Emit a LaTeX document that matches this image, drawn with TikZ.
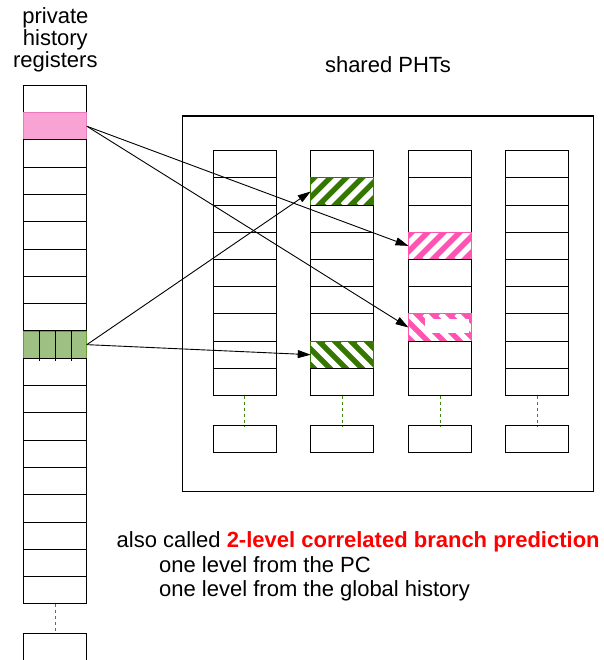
\documentclass[tikz,border=0pt]{standalone}
\usepackage{fontspec}
\setmainfont{Liberation Sans}
\usetikzlibrary{arrows.meta,calc}

\definecolor{regpink}{RGB}{249,163,212}
\definecolor{regpinkline}{RGB}{236,120,190}
\definecolor{reggreen}{RGB}{158,193,131}
\definecolor{reggreenline}{RGB}{100,160,50}
\definecolor{hgreen}{RGB}{53,119,0}
\definecolor{hpink}{RGB}{255,84,178}
\definecolor{dotgreen}{RGB}{70,135,20}
\definecolor{hired}{RGB}{255,0,0}

\tikzset{
  cell/.style={draw=black, line width=1pt, minimum width=63pt, minimum height=27.25pt,
    inner sep=0pt, outer sep=0pt},
  % diagonal stripes rising to the right
  hatchup/.style={draw=#1, path picture={
    \fill[#1] (path picture bounding box.south west) rectangle (path picture bounding box.north east);
    \foreach \k in {-3,...,5}
      \draw[white, line width=5.6pt] ([xshift=\k*16pt]path picture bounding box.south west) -- ++(45,-45);
  }},
  % diagonal stripes falling to the right
  hatchdown/.style={draw=#1, path picture={
    \fill[#1] (path picture bounding box.south west) rectangle (path picture bounding box.north east);
    \foreach \k in {-3,...,5}
      \draw[white, line width=5.6pt] ([xshift=\k*16pt]path picture bounding box.north west) -- ++(45,45);
  }},
  reg1/.style={fill=regpink, draw=regpinkline},
  reg9/.style={fill=reggreen, draw=reggreenline},
  pht2-1/.style={hatchup=hgreen},
  pht2-7/.style={hatchdown=hgreen},
  pht3-3/.style={hatchup=hpink},
  pht3-6/.style={hatchdown=hpink},
  link/.style={line width=0.9pt, -{Triangle[length=13pt,width=8pt]}},
  gap/.style={dotgreen, line width=1pt, dash pattern=on 3pt off 3pt},
  label/.style={font=\fontsize{22}{24}\selectfont, inner sep=0pt},
  frame/.style={draw=black, line width=1.2pt},
}

\begin{document}
\begin{tikzpicture}[x=1pt,y=-1pt]
\useasboundingbox (0,0) rectangle (603,660);

% private history registers
\foreach \i in {0,...,18}
  \node[cell, reg\i/.try] (r\i) at (55.35, {98.95+27.3*\i}) {};
\foreach \k in {1,2,3}
  \draw[line width=1pt] ($(r9.north west)!\k/4!(r9.north east)$) -- ++(0,30);
\node[cell] (rlast) at (55.35, 646.7) {};
\draw[gap] (r18.south) -- (rlast.north);

\node[label, anchor=base] (t1) at (55.35, 23.3) {private};
\node[label, anchor=base] (t2) at (55.35, 45.3) {history};
\node[label, anchor=base] (t3) at (55.35, 67.3) {registers};

% shared pattern history tables
\node[label, anchor=base] (sh) at (388, 72.3) {shared PHTs};
\draw[frame] (182.3,116) rectangle (593.3,491.7);

\foreach \c/\x in {1/244.65, 2/342.2, 3/440, 4/537.35} {
  \foreach \i in {0,...,8}
    \node[cell, pht\c-\i/.try] (p\c-\i) at (\x, {150.7+13.6+27.2*\i}) {};
  \node[cell] (b\c) at (\x, 439.35) {};
  \draw[gap] (p\c-8.south) -- (b\c.north);
}
% unset portion of the lower pink entry
\fill[white] (425,319) rectangle (469,333);

% register to table connections
\draw[link] (r1.east) -- (p3-3.west);
\draw[link] (r1.east) -- (p3-6.west);
\draw[link] (r9.east) -- (p2-1.west);
\draw[link] (r9.east) -- (p2-7.west);

% caption
\node[label, anchor=base west] (c1) at (116.5, 547) {also called \textcolor{hired}{\bfseries 2-level correlated branch prediction}};
\node[label, anchor=base west] (c2) at (159, 572) {one level from the PC};
\node[label, anchor=base west] (c3) at (159, 596) {one level from the global history};
\end{tikzpicture}
\end{document}
